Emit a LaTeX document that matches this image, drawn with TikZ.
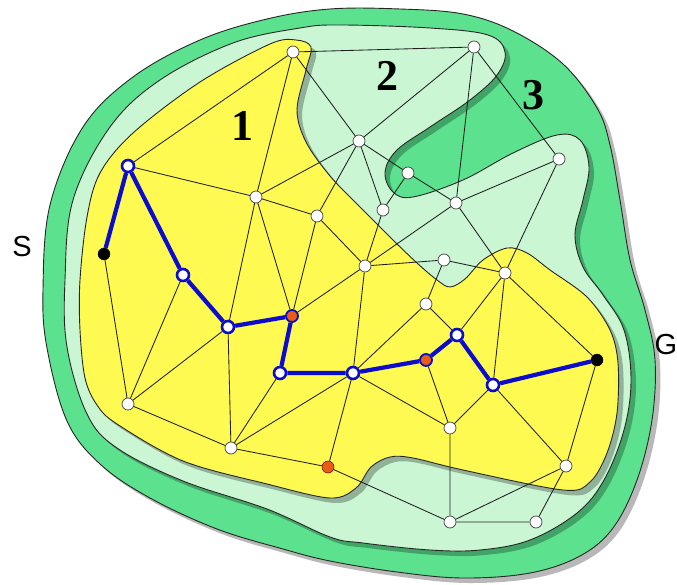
\documentclass[tikz,border=0pt]{standalone}
\usepackage{fontspec}
\setmainfont{Liberation Serif}
\newfontfamily\sansf{Liberation Sans}
\definecolor{darkgreen}{RGB}{92,226,142}
\definecolor{lightgreen}{RGB}{202,246,212}
\definecolor{yel}{RGB}{255,250,82}
\definecolor{pathblue}{RGB}{12,12,205}
\definecolor{orng}{RGB}{232,92,22}
\newcommand\outerpath{plot[smooth cycle, tension=0.6] coordinates {(330,9) (400,9) (463,14) (513,31) (563,64) (597,108) (610,145) (620,200) (630,260) (645,310) (655,360) (652,420) (637,480) (613,528) (580,556) (530,573) (463,578) (397,572) (330,561) (283,549) (217,529) (150,498) (100,464) (67,421) (47,348) (43,290) (50,205) (83,127) (133,77) (200,40) (267,19)}}
\newcommand\midpath{plot[smooth cycle, tension=0.6] coordinates {(300,28) (340,25) (430,28) (488,35) (505,52) (497,75) (470,100) (430,127) (397,150) (385,172) (393,192) (413,197) (463,180) (513,153) (557,135) (580,140) (589,167) (583,200) (575,235) (583,267) (603,295) (624,330) (631,380) (624,430) (604,480) (577,513) (530,540) (480,550) (430,550) (363,543) (330,537) (267,509) (183,481) (117,448) (87,414) (67,347) (65,280) (73,200) (110,127) (160,80) (233,43)}}
\newcommand\innerpath{plot[smooth cycle, tension=0.55] coordinates {(296,40) (311,47) (306,70) (297,110) (306,142) (330,176) (360,207) (393,240) (417,263) (437,280) (450,287) (465,279) (483,260) (507,248) (527,253) (550,270) (587,297) (610,330) (618,363) (617,413) (607,453) (590,482) (563,490) (463,470) (413,458) (390,457) (371,467) (356,488) (330,498) (267,484) (183,461) (117,424) (97,405) (85,378) (80,330) (80,280) (87,217) (100,173) (133,133) (200,82) (270,44)}}
\tikzset{
  region/.style={draw=black!85, line width=0.9pt},
  shade/.style={fill=black, opacity=0.28, shift={(5,5)}},
  edge/.style={draw=black!88, line width=0.85pt},
  route/.style={draw=pathblue, line width=4.2pt, line join=round},
  wn/.style={circle, fill=white, draw=black!75, line width=0.7pt, minimum size=12pt, inner sep=0pt},
  pn/.style={circle, fill=white, draw=pathblue, line width=2.6pt, minimum size=12pt, inner sep=0pt},
  onode/.style={circle, fill=orng, draw=pathblue, line width=1.8pt, minimum size=12pt, inner sep=0pt},
  oplain/.style={circle, fill=orng, draw=red!40!black, line width=0.5pt, minimum size=12pt, inner sep=0pt},
  bn/.style={circle, fill=black, draw=black, minimum size=12pt, inner sep=0pt},
  num/.style={font=\bfseries\fontsize{44}{44}\selectfont, inner sep=0pt},
  lab/.style={font=\sansf\fontsize{29}{29}\selectfont, inner sep=0pt}
}
\begin{document}
\begin{tikzpicture}[x=1pt,y=-1pt]
\useasboundingbox (0,0) rectangle (677,585);
% regions
\fill[shade] \outerpath;
\path[region, fill=darkgreen] \outerpath;
\fill[shade] \midpath;
\path[region, fill=lightgreen] \midpath;
\fill[shade] \innerpath;
\path[region, fill=yel] \innerpath;
% nodes
\node[wn] (A) at (293,52) {};
\node[wn] (B) at (474,47) {};
\node[pn] (C) at (128,166) {};
\node[wn] (D) at (359,141) {};
\node[wn] (E) at (559,159) {};
\node[wn] (F) at (408,173) {};
\node[wn] (G1) at (256,197) {};
\node[wn] (H) at (317,216) {};
\node[wn] (I) at (456,203) {};
\node[wn] (J) at (383,210) {};
\node[bn] (K) at (104,254) {};
\node[pn] (L) at (183,275) {};
\node[wn] (M) at (365,266) {};
\node[wn] (N) at (444,260) {};
\node[wn] (O) at (505,273) {};
\node[wn] (P) at (426,304) {};
\node[pn] (Q) at (228,327) {};
\node[onode] (R) at (292,316) {};
\node[pn] (T) at (457,335) {};
\node[pn] (U) at (280,373) {};
\node[pn] (V) at (353,373) {};
\node[onode] (W) at (426,360) {};
\node[pn] (X) at (493,385) {};
\node[bn] (Y) at (597,360) {};
\node[wn] (Z) at (128,404) {};
\node[wn] (AA) at (450,428) {};
\node[wn] (AB) at (231,448) {};
\node[oplain] (AC) at (328,467) {};
\node[wn] (AD) at (566,466) {};
\node[wn] (AE) at (450,522) {};
\node[wn] (AF) at (536,522) {};
% edges
\path[edge] (A) -- (B) (A) -- (C) (A) -- (G1) (A) -- (D)
  (B) -- (D) (B) -- (I) (B) -- (E)
  (C) -- (G1)
  (D) -- (G1) (D) -- (H) (D) -- (J) (D) -- (F)
  (F) -- (J) (F) -- (I)
  (E) -- (I) (E) -- (O)
  (G1) -- (H) (G1) -- (Q) (G1) -- (R)
  (H) -- (R) (H) -- (M)
  (I) -- (M) (I) -- (O)
  (J) -- (M)
  (K) -- (Z)
  (L) -- (Z)
  (M) -- (R) (M) -- (N) (M) -- (V)
  (N) -- (O) (N) -- (P)
  (O) -- (T) (O) -- (X) (O) -- (Y)
  (P) -- (T) (P) -- (V)
  (Q) -- (Z) (Q) -- (AB)
  (U) -- (AB)
  (V) -- (AB) (V) -- (AC) (V) -- (AA)
  (W) -- (AA)
  (X) -- (AA) (X) -- (AD)
  (Y) -- (AD)
  (Z) -- (AB)
  (AB) -- (AC)
  (AC) -- (AE)
  (AA) -- (AE)
  (AE) -- (AF) (AE) -- (AD)
  (AF) -- (AD);
% route
\path[route] (K) -- (C) -- (L) -- (Q) -- (R) -- (U) -- (V) -- (W) -- (T) -- (X) -- (Y);
% labels
\node[num] (n1) at (242,126) {1};
\node[num] (n2) at (387,76) {2};
\node[num] (n3) at (533,95) {3};
\node[lab] (s) at (22,247) {S};
\node[lab] (g) at (666,345) {G};
\end{tikzpicture}
\end{document}
